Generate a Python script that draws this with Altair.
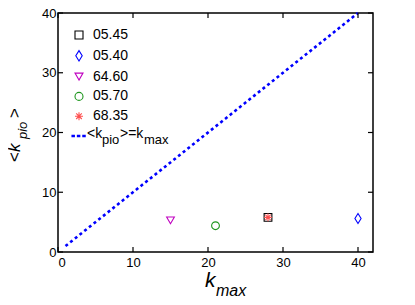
import altair as alt
import pandas as pd

# data
series = ["05.45", "05.40", "64.60", "05.70", "68.35"]
kmax = [28, 40, 15, 21, 28]
kpio = [5.8, 5.6, 5.3, 4.4, 5.8]
line_x = [1, 40]
line_y = [1, 40]
xticks = [0, 10, 20, 30, 40]
yticks = [0, 10, 20, 30, 40]

LINE_KEY = "line"
domain = series + [LINE_KEY]
colors = ["#000000", "#0000FF", "#C000C0", "#1E961E", "#FF5050", "#0000FF"]
asterisk = "M-1,0H1M0,-1V1M-0.7,-0.7L0.7,0.7M-0.7,0.7L0.7,-0.7"
diamond = "M0,-1.3L0.8,0L0,1.3L-0.8,0Z"
dash = ("M-1.75,-0.16H-1.15V0.16H-1.75Z"
        "M-0.4,-0.16H0.2V0.16H-0.4Z"
        "M0.95,-0.16H1.55V0.16H0.95Z")
shapes = ["square", diamond, "triangle-down", "circle", asterisk, dash]

W, H = 315, 239
FONT = "Liberation Sans"

pts = pd.DataFrame({"x": kmax, "y": kpio, "series": series})
ln = pd.DataFrame({"x": line_x, "y": line_y})
xt = pd.DataFrame({"v": xticks})
yt = pd.DataFrame({"v": yticks})

xs = alt.Scale(domain=[0, 42], nice=False, zero=False)
ys = alt.Scale(domain=[0, 40], nice=False, zero=False)
xaxis = alt.Axis(values=xticks, title=None, ticks=False, domain=False, grid=False,
                 labelFontSize=13, labelPadding=4, labelColor="black", labelFont=FONT)
yaxis = alt.Axis(values=yticks, title=None, ticks=False, domain=False, grid=False,
                 labelFontSize=13, labelPadding=2, labelColor="black", labelFont=FONT)

line = alt.Chart(ln).mark_line(color="#0000FF", strokeWidth=2.6, strokeDash=[3, 3]).encode(
    x=alt.X("x:Q", scale=xs, axis=xaxis),
    y=alt.Y("y:Q", scale=ys, axis=yaxis),
)

points = alt.Chart(pts).mark_point(filled=False, size=60, opacity=1, strokeWidth=1.1).encode(
    x=alt.X("x:Q", scale=xs),
    y=alt.Y("y:Q", scale=ys),
    shape=alt.Shape("series:N", scale=alt.Scale(domain=domain, range=shapes), title=None,
                    legend=alt.Legend(orient="none", legendX=14, legendY=15,
                                      labelExpr="datum.label == 'line' ? '' : datum.label")),
    color=alt.Color("series:N", scale=alt.Scale(domain=domain, range=colors), title=None),
)

tick_len = 5
bx = alt.Chart(xt).mark_rule(color="black", strokeWidth=1.2).encode(
    x=alt.X("v:Q", scale=xs), y=alt.value(H), y2=alt.value(H - tick_len))
tx = alt.Chart(xt).mark_rule(color="black", strokeWidth=1.2).encode(
    x=alt.X("v:Q", scale=xs), y=alt.value(0), y2=alt.value(tick_len))
ly = alt.Chart(yt).mark_rule(color="black", strokeWidth=1.2).encode(
    y=alt.Y("v:Q", scale=ys), x=alt.value(0), x2=alt.value(tick_len))
ry = alt.Chart(yt).mark_rule(color="black", strokeWidth=1.2).encode(
    y=alt.Y("v:Q", scale=ys), x=alt.value(W), x2=alt.value(W - tick_len))


def txt(s, x, y, size, italic=False, angle=0, color="black"):
    return alt.Chart(pd.DataFrame({"t": [s]})).mark_text(
        align="left", baseline="alphabetic", fontSize=size, font=FONT,
        fontStyle="italic" if italic else "normal", angle=angle, color=color,
    ).encode(text="t:N", x=alt.value(x), y=alt.value(y))


titles = [
    # x title
    txt("k", 147, 274, 21, italic=True),
    txt("max", 158, 283, 16, italic=True),
    # y title (rotated)
    txt("<", -38, 149, 17, angle=270),
    txt("k", -38, 139, 17, italic=True, angle=270),
    txt("pio", -31, 126, 13, italic=True, angle=270),
    txt(">", -38, 105, 17, angle=270),
    # legend label for the line
    txt("<k", 29, 125, 14),
    txt("pio", 44, 131, 13),
    txt(">=k", 62, 125, 14),
    txt("max", 86, 131, 13),
]

chart = alt.layer(line, points, bx, tx, ly, ry, *titles).properties(
    width=W, height=H,
    padding={"left": 50, "top": 5, "right": 26, "bottom": 45},
    autosize=alt.AutoSizeParams(type="none"),
).configure_view(stroke="black", strokeWidth=1.5).configure_legend(
    labelFontSize=14, labelFont=FONT, labelColor="black", symbolSize=64,
    rowPadding=5.8, padding=0, labelOffset=7, symbolStrokeWidth=1.1,
)

chart.save("out.html", embed_options={"renderer": "svg", "actions": False})
